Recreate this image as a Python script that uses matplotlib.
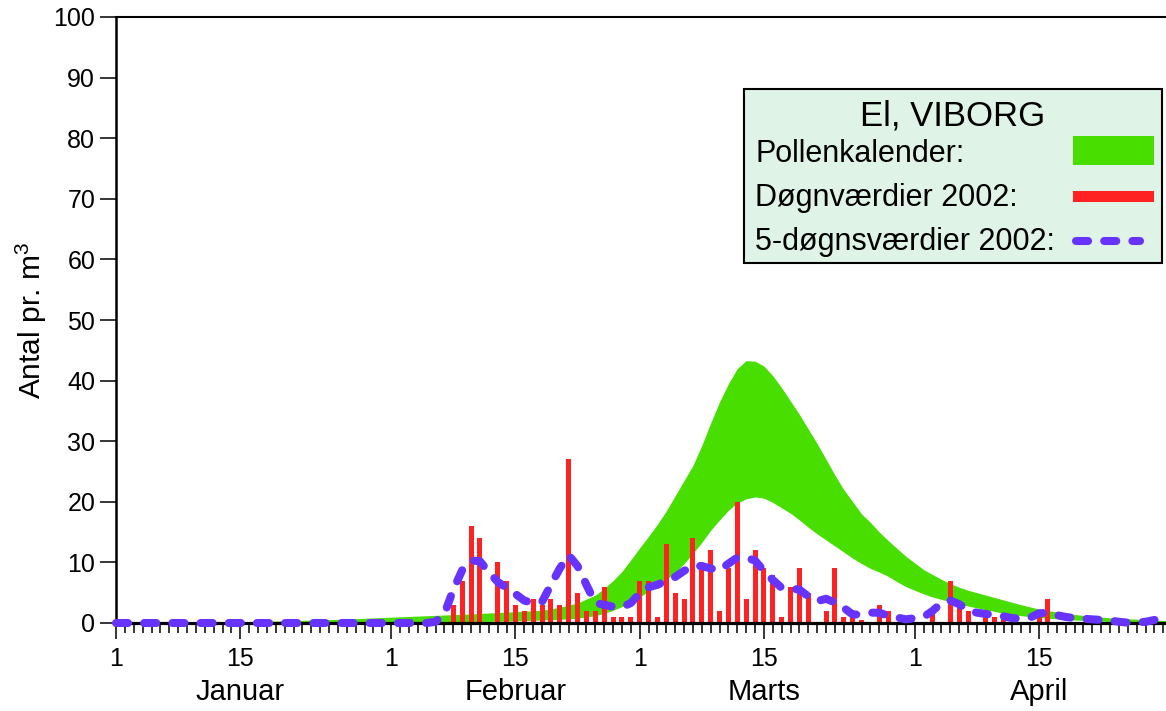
import numpy as np
import matplotlib
matplotlib.use("Agg")
import matplotlib.pyplot as plt
from matplotlib.patches import Rectangle
from matplotlib.lines import Line2D
from matplotlib.ticker import FixedLocator

plt.rcParams['font.family'] = ['Liberation Sans', 'DejaVu Sans']
plt.rcParams['mathtext.fontset'] = 'custom'
plt.rcParams['mathtext.rm'] = 'Liberation Sans'
plt.rcParams['mathtext.it'] = 'Liberation Sans'

# dage regnet fra 1. januar (0 = 1. jan)
ndays = 119

# pollenkalender, ovre og nedre kurve
kal_dag = [0, 10, 15, 20, 25, 30, 35, 40, 44, 48, 50, 52, 54, 55, 56, 57, 58, 59, 60,
           61, 62, 63, 64, 65, 66, 67, 68, 69, 70, 71, 72, 73, 74, 75, 76, 77, 78, 79,
           80, 81, 82, 83, 84, 85, 86, 87, 88, 89, 90, 91, 92, 93, 94, 95, 96, 98, 100,
           102, 104, 106, 108, 110, 112, 114, 116, 118.3]
kal_top = [0.05, 0.1, 0.2, 0.4, 0.6, 0.9, 1.2, 1.5, 1.8, 2.1, 2.6, 3.3, 4.6, 5.7, 7.0,
           8.5, 10.4, 12.4, 14.3, 16.3, 18.5, 21.0, 23.5, 26.0, 29.3, 33.0, 36.5, 39.5,
           42.0, 43.3, 43.2, 42.4, 40.8, 38.8, 36.6, 34.4, 32.0, 29.6, 27.0, 24.4, 22.0,
           20.0, 18.0, 16.6, 15.0, 13.6, 12.3, 11.0, 9.9, 8.8, 8.0, 7.2, 6.5, 5.9, 5.4,
           4.6, 3.8, 3.0, 2.3, 1.8, 1.4, 1.1, 0.85, 0.7, 0.55, 0.4]
kal_bund = [0.0, 0.02, 0.03, 0.05, 0.1, 0.15, 0.2, 0.25, 0.3, 0.5, 0.6, 0.8, 1.2, 1.6,
            2.1, 2.7, 3.4, 4.3, 5.2, 6.2, 7.2, 8.3, 9.8, 11.5, 13.3, 15.3, 17.0, 18.6,
            19.8, 20.5, 20.8, 20.6, 19.9, 19.0, 18.1, 17.0, 15.8, 14.7, 13.7, 12.7, 11.7,
            10.7, 9.8, 9.0, 8.4, 7.7, 6.8, 6.0, 5.4, 4.8, 4.3, 3.9, 3.5, 3.1, 2.8, 2.2,
            1.6, 1.2, 0.9, 0.7, 0.5, 0.35, 0.25, 0.18, 0.12, 0.08]

# doegnvaerdier 2002 (kun dage med pollen)
bar_dag = [38, 39, 40, 41, 43, 44, 45, 46, 47, 48, 49, 50, 51, 52, 53, 54, 55, 56, 57,
           58, 59, 60, 61, 62, 63, 64, 65, 66, 67, 68, 69, 70, 71, 72, 73, 74, 75, 76,
           77, 78, 80, 81, 82, 83, 84, 86, 87, 89, 92, 94, 95, 96, 98, 99, 100, 101,
           104, 105]
bar_val = [3, 7, 16, 14, 10, 7, 3, 2, 4, 3, 4, 3, 27, 5, 2, 2, 6, 1, 1,
           1, 7, 7, 1, 13, 5, 4, 14, 9, 12, 2, 9, 20, 4, 12, 9, 8, 1, 6,
           9, 5, 2, 9, 1, 1, 0.5, 3, 2, 1, 2, 7, 3, 2, 2, 1, 1, 1,
           1, 4]

# 5-doegnsvaerdier 2002, dag 0..118
fem_val = [0]*36 + [
    0.2, 1.5, 5.5, 8.7, 10.3, 10.2, 8.4, 6.8, 5.8, 4.8,          # 36-45
    3.7, 3.3, 3.5, 6.3, 9.0, 11.2, 9.4, 6.3, 3.3, 3.0,           # 46-55
    2.7, 2.6, 3.3, 4.9, 5.9, 6.3, 7.0, 7.6, 8.6, 9.4,            # 56-65
    9.4, 9.0, 8.7, 9.8, 10.8, 10.8, 10.3, 8.6, 7.1, 5.8,         # 66-75
    5.7, 5.5, 4.4, 3.6, 4.0, 3.4, 2.5, 1.4, 1.4, 1.7,            # 76-85
    1.7, 1.2, 0.9, 0.6, 0.8, 1.0, 2.0, 3.3, 3.7, 3.1,            # 86-95
    2.1, 1.7, 1.5, 1.3, 1.1, 0.8, 0.7, 0.9, 1.6, 1.7,            # 96-105
    1.3, 1.0, 0.8, 0.7, 0.6, 0.5, 0.4, 0.2, 0.05, 0.05,          # 106-115
    0.2, 0.5, 0.9]                                               # 116-118

tick_dag = [0, 14, 31, 45, 59, 73, 90, 104]
tick_lab = ['1', '15', '1', '15', '1', '15', '1', '15']
maaned_dag = [14, 45, 73, 104]
maaned = ['Januar', 'Februar', 'Marts', 'April']

gron = '#48DE00'
rod = '#FF2222'
lilla = '#6633FF'
streg = (1.5, 2.0)

fig = plt.figure(figsize=(11.66, 7.11), dpi=100)
ax = fig.add_axes([116/1166, 88/711, 1050/1166, 606/711])

ax.fill_between(kal_dag, kal_bund, kal_top, color=gron, lw=0, zorder=1)
ax.bar(bar_dag, bar_val, width=0.56, color=rod, zorder=2)
ax.plot(np.arange(ndays), fem_val, color=lilla, lw=5.8, dashes=streg,
        dash_capstyle='round', solid_capstyle='round', zorder=4, clip_on=False)

ax.set_xlim(0, 118.3)
ax.set_ylim(0, 100)
ax.set_yticks(np.arange(0, 101, 10))
ax.xaxis.set_major_locator(FixedLocator(tick_dag))
ax.set_xticklabels(tick_lab)
ax.xaxis.set_minor_locator(FixedLocator(np.arange(ndays)))

ax.tick_params(axis='x', which='major', direction='out', length=11.5, width=1.1,
               labelsize=18, pad=6)
ax.tick_params(axis='x', which='minor', direction='out', length=7.2, width=1.1)
ax.tick_params(axis='y', which='major', direction='out', length=11.5, width=1.1,
               labelsize=18, pad=3.5)

ax.spines['right'].set_visible(False)
ax.spines['top'].set_linewidth(1.5)
ax.spines['left'].set_linewidth(1.8)
ax.spines['bottom'].set_linewidth(2.3)

for d, m in zip(maaned_dag, maaned):
    ax.text(d, -0.114, m, transform=ax.get_xaxis_transform(), ha='center',
            va='center', fontsize=21)

ax.text(-0.081, 0.5, 'Antal pr. m$^3$', transform=ax.transAxes, rotation=90,
        ha='center', va='center', fontsize=21.5)

# forklaring
ax.add_patch(Rectangle((0.598, 0.594), 0.398, 0.287, transform=ax.transAxes,
                       facecolor='#E0F3E7', edgecolor='black', lw=1.5, zorder=5))
ax.text(0.797, 0.837, 'El, VIBORG', transform=ax.transAxes, ha='center',
        va='center', fontsize=25, zorder=6)
ax.text(0.609, 0.774, 'Pollenkalender:', transform=ax.transAxes, ha='left',
        va='center', fontsize=22, zorder=6)
ax.text(0.609, 0.701, 'Døgnværdier 2002:', transform=ax.transAxes, ha='left',
        va='center', fontsize=22, zorder=6)
ax.text(0.609, 0.629, '5-døgnsværdier 2002:', transform=ax.transAxes, ha='left',
        va='center', fontsize=22, zorder=6)
ax.add_patch(Rectangle((0.911, 0.756), 0.078, 0.048, transform=ax.transAxes,
                       facecolor=gron, lw=0, zorder=6))
ax.add_patch(Rectangle((0.911, 0.695), 0.078, 0.018, transform=ax.transAxes,
                       facecolor=rod, lw=0, zorder=6))
ax.add_line(Line2D([0.914, 0.975], [0.631, 0.631], transform=ax.transAxes,
                   color=lilla, lw=5.8, dashes=streg, dash_capstyle='round',
                   zorder=6))

fig.savefig('out.png', dpi=100)
